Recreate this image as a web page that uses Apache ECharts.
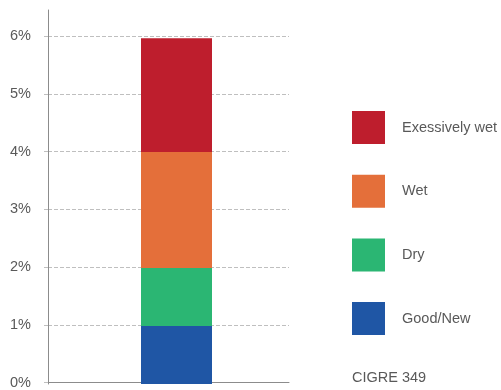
<!DOCTYPE html>
<html>
<head>
<meta charset="utf-8">
<script src="https://cdn.jsdelivr.net/npm/echarts@6/dist/echarts.min.js"></script>
<style>
  html, body { margin: 0; padding: 0; background: #fff; }
  #chart { width: 501px; height: 390px; }
</style>
</head>
<body>
<div id="chart"></div>
<script>
// Moisture condition shares (percent of units), stacked bottom to top
const conditions = ['Good/New', 'Dry', 'Wet', 'Exessively wet'];
const shares = [1.0, 1.0, 2.0, 1.96];
const colors = ['#1F56A5', '#2BB673', '#E46F3A', '#BE1E2D'];
const category = ['CIGRE 349'];
const yTicks = [0, 1, 2, 3, 4, 5, 6];
const sourceNote = 'CIGRE 349';

const font = 'Liberation Sans, Arial, sans-serif';
const textColor = '#595959';
const axisColor = '#8c8c8c';
const gridColor = '#bfbfbf';
const yMin = yTicks[0];
const yMax = yTicks[yTicks.length - 1];

const chart = echarts.init(document.getElementById('chart'), null, { renderer: 'canvas' });

// Grid 0: percentage axis with dashed guides; grid 1: taller axis line;
// grid 2: the stacked column, sharing grid 0's vertical scale.
const series = conditions.map((name, i) => ({
  name: name,
  type: 'bar',
  stack: 'total',
  xAxisIndex: 2,
  yAxisIndex: 2,
  barWidth: '100%',
  itemStyle: { color: colors[i] },
  data: [shares[i]]
}));

chart.setOption({
  animation: false,
  backgroundColor: '#fff',
  title: {
    text: sourceNote,
    left: 352,
    top: 370,
    padding: 0,
    textStyle: { fontFamily: font, fontSize: 14.5, fontWeight: 'normal', color: textColor }
  },
  legend: {
    orient: 'vertical',
    left: 352,
    top: 111,
    padding: 0,
    itemWidth: 33,
    itemHeight: 33,
    itemGap: 30.7,
    icon: 'rect',
    data: conditions.slice().reverse(),
    textStyle: { fontFamily: font, fontSize: 14.5, color: textColor, padding: [0, 0, 0, 12] }
  },
  grid: [
    { left: 48, right: 212, top: 36, bottom: 6 },
    { left: 48, right: 212, top: 10, bottom: 6 },
    { left: 141, right: 289, top: 36, bottom: 6 }
  ],
  xAxis: [
    {
      type: 'value',
      gridIndex: 0,
      min: 0,
      max: 1,
      axisLine: { show: true, lineStyle: { color: axisColor, width: 1 } },
      axisTick: { show: false },
      axisLabel: { show: false },
      splitLine: { show: false }
    },
    { type: 'value', gridIndex: 1, min: 0, max: 1, show: false },
    { type: 'category', gridIndex: 2, data: category, show: false }
  ],
  yAxis: [
    {
      type: 'value',
      gridIndex: 0,
      min: yMin,
      max: yMax,
      interval: 1,
      axisLine: { show: false },
      axisTick: { show: true, length: 6, lineStyle: { color: gridColor, type: 'dashed' } },
      axisLabel: {
        margin: 17,
        fontFamily: font,
        fontSize: 14.5,
        color: textColor,
        formatter: v => v + '%'
      },
      splitLine: { show: true, lineStyle: { color: gridColor, type: 'dashed', width: 1 } }
    },
    {
      type: 'value',
      gridIndex: 1,
      min: 0,
      max: 1,
      axisLine: { show: true, lineStyle: { color: axisColor, width: 1 } },
      axisTick: { show: false },
      axisLabel: { show: false },
      splitLine: { show: false }
    },
    { type: 'value', gridIndex: 2, min: yMin, max: yMax, show: false }
  ],
  series: series
});
</script>
</body>
</html>
